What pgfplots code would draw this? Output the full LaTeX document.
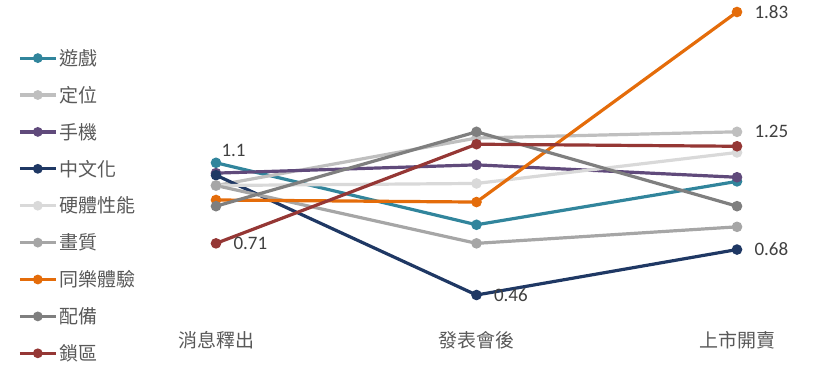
\documentclass[border=0pt]{standalone}
\usepackage{pgfplots}
\pgfplotsset{compat=1.18}
\usepackage{fontspec}
\setmainfont{Carlito}
\newfontfamily\cjk{Noto Sans CJK TC}
\definecolor{cTeal}{HTML}{31859C}
\definecolor{cLG}{HTML}{BFBFBF}
\definecolor{cPur}{HTML}{604A7B}
\definecolor{cNavy}{HTML}{1F3864}
\definecolor{cVLG}{HTML}{D9D9D9}
\definecolor{cMG}{HTML}{A6A6A6}
\definecolor{cOr}{HTML}{E46C0A}
\definecolor{cDG}{HTML}{7F7F7F}
\definecolor{cRed}{HTML}{953735}
\definecolor{txt}{HTML}{595959}
\definecolor{lbl}{HTML}{404040}
\begin{document}
\begin{tikzpicture}[x=1bp,y=1bp]
\useasboundingbox (0,0) rectangle (817,376);
\begin{axis}[
  at={(216bp,81bp)}, anchor=south west,
  scale only axis, width=521bp, height=283bp,
  xmin=0, xmax=2, ymin=0.46, ymax=1.83,
  clip=false,
  axis line style={draw=none},
  tick style={draw=none},
  ytick=\empty,
  xtick={0,1,2},
  xticklabels={消息釋出,發表會後,上市開賣},
  xticklabel style={font=\cjk\fontsize{19bp}{22bp}\selectfont, text=txt, anchor=center, yshift=-45bp},
  every axis plot/.append style={line width=3.2bp, mark=*, mark size=3.6bp},
  legend cell align=left,
  legend style={draw=none, fill=none, inner sep=0pt,
    at={(rel axis cs:-0.380,0.903)}, anchor=north west,
    font=\cjk\fontsize{19bp}{22bp}\selectfont, text=txt,
    row sep=0pt,
    nodes={inner ysep=0pt, inner xsep=2bp, minimum height=36.9bp}},
  legend image code/.code={
    \draw[mark repeat=2, mark phase=2, line width=3.2bp, mark size=3.2bp] plot coordinates {(0bp,0bp) (18bp,0bp) (36bp,0bp)};
  },
]
\addplot[cTeal, mark options={fill=cTeal}] coordinates {(0,1.10) (1,0.80) (2,1.01)};
\addlegendentry{遊戲}
\addplot[cLG, mark options={fill=cLG}] coordinates {(0,0.99) (1,1.22) (2,1.25)};
\addlegendentry{定位}
\addplot[cPur, mark options={fill=cPur}] coordinates {(0,1.05) (1,1.09) (2,1.03)};
\addlegendentry{手機}
\addplot[cNavy, mark options={fill=cNavy}] coordinates {(0,1.04) (1,0.46) (2,0.68)};
\addlegendentry{中文化}
\addplot[cVLG, mark options={fill=cVLG}] coordinates {(0,0.99) (1,1.00) (2,1.15)};
\addlegendentry{硬體性能}
\addplot[cMG, mark options={fill=cMG}] coordinates {(0,0.99) (1,0.71) (2,0.79)};
\addlegendentry{畫質}
\addplot[cOr, mark options={fill=cOr}] coordinates {(0,0.92) (1,0.91) (2,1.83)};
\addlegendentry{同樂體驗}
\addplot[cDG, mark options={fill=cDG}] coordinates {(0,0.89) (1,1.25) (2,0.89)};
\addlegendentry{配備}
\addplot[cRed, mark options={fill=cRed}] coordinates {(0,0.71) (1,1.19) (2,1.18)};
\addlegendentry{鎖區}
\begin{scope}[every node/.style={font=\fontsize{19bp}{22bp}\selectfont, text=lbl, anchor=west}]
\node at (axis cs:0,1.10) [xshift=2bp, yshift=12bp] {1.1};
\node at (axis cs:0,0.71) [xshift=14bp] {0.71};
\node at (axis cs:1,0.46) [xshift=14bp] {0.46};
\node at (axis cs:2,1.83) [xshift=14bp] {1.83};
\node at (axis cs:2,1.25) [xshift=14bp] {1.25};
\node at (axis cs:2,0.68) [xshift=14bp] {0.68};
\end{scope}
\end{axis}
\end{tikzpicture}
\end{document}
